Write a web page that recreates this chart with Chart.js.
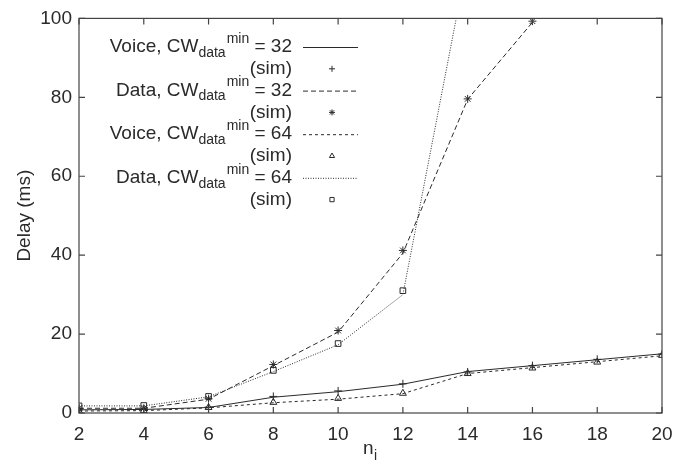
<!DOCTYPE html>
<html>
<head>
<meta charset="utf-8">
<script src="https://cdn.jsdelivr.net/npm/chart.js@4.4.1/dist/chart.umd.min.js"></script>
<style>
  html, body { margin: 0; padding: 0; background: #fff; }
  canvas { display: block; }
</style>
</head>
<body>
<canvas id="delayChart" width="684" height="463"></canvas>
<script>
// x values (number of voice stations n_i)
const nValues = [2, 4, 6, 8, 10, 12, 14, 16, 18, 20];

// Delay (ms)
const voice32 = [0.8, 0.9, 1.4, 4.0, 5.4, 7.3, 10.5, 12.0, 13.5, 15.0];
const voice32Sim = [0.8, 0.9, 1.5, 4.2, 5.6, 7.4, 10.4, 12.0, 13.6, 14.9];
const data32 = [1.2, 1.2, 3.5, 12.0, 20.5, 40.5, 79.5, 99.0];
const data32Sim = [1.2, 1.2, 3.6, 12.3, 20.9, 41.2, 79.6, 99.3];
const voice64 = [0.5, 0.6, 1.3, 2.6, 3.5, 4.9, 10.0, 11.5, 13.0, 14.5];
const voice64Sim = [0.5, 0.6, 1.4, 2.7, 3.7, 5.0, 10.0, 11.4, 12.9, 14.6];
const data64 = [1.8, 1.8, 4.1, 10.5, 17.3, 30.0, 115.0];
const data64Sim = [1.8, 1.9, 4.2, 10.8, 17.6, 31.0];

const yTicks = [0, 20, 40, 60, 80, 100];

const INK = '#2a2a2a';
const FONT = '"Liberation Sans", Arial, sans-serif';

function pts(values) {
    return values.map((v, i) => ({ x: nValues[i], y: v }));
}

function lineSet(label, values, dash) {
    return {
        label: label,
        data: pts(values),
        borderColor: INK,
        borderWidth: 1,
        borderDash: dash,
        pointRadius: 0,
        fill: false,
        tension: 0
    };
}

function simSet(label, values, style) {
    return {
        label: label,
        data: pts(values),
        showLine: false,
        pointStyle: style,
        pointRadius: 4,
        borderColor: INK,
        backgroundColor: 'rgba(0,0,0,0)',
        borderWidth: 1
    };
}

const dashes = {
    voice32: [],
    data32: [5, 3],
    voice64: [3, 3],
    data64: [1, 1.5]
};

// legend rows: [prefix, value, dash, pointStyle]
const legendRows = [
    ['Voice, CW', '32', dashes.voice32, 'cross'],
    ['Data, CW', '32', dashes.data32, 'star'],
    ['Voice, CW', '64', dashes.voice64, 'triangle'],
    ['Data, CW', '64', dashes.data64, 'rect']
];

const framePlugin = {
    id: 'frame',
    afterDraw(chart) {
        const ctx = chart.ctx;
        const a = chart.chartArea;
        const xs = chart.scales.x;
        const ys = chart.scales.y;
        ctx.save();
        ctx.strokeStyle = '#444';
        ctx.lineWidth = 1.2;
        ctx.strokeRect(a.left, a.top, a.right - a.left, a.bottom - a.top);
        ctx.beginPath();
        nValues.forEach(n => {
            const px = xs.getPixelForValue(n);
            ctx.moveTo(px, a.bottom); ctx.lineTo(px, a.bottom - 6);
            ctx.moveTo(px, a.top); ctx.lineTo(px, a.top + 6);
        });
        yTicks.forEach(t => {
            const py = ys.getPixelForValue(t);
            ctx.moveTo(a.left, py); ctx.lineTo(a.left + 6, py);
            ctx.moveTo(a.right, py); ctx.lineTo(a.right - 6, py);
        });
        ctx.stroke();

        // axis titles
        const big = '19px ' + FONT;
        const small = '14px ' + FONT;
        ctx.fillStyle = INK;
        ctx.font = big;
        ctx.textBaseline = 'middle';
        ctx.textAlign = 'center';
        ctx.save();
        ctx.translate(25, (a.top + a.bottom) / 2);
        ctx.rotate(-Math.PI / 2);
        ctx.fillText('Delay (ms)', 0, 0);
        ctx.restore();
        ctx.textAlign = 'left';
        ctx.fillText('n', 363, 449);
        ctx.font = small;
        ctx.fillText('i', 374, 456);

        // legend (gnuplot style, right aligned text)
        const textRight = 292;
        const rowH = 21.8;
        legendRows.forEach((row, i) => {
            const y = 47 + i * 2 * rowH;
            const ySim = y + rowH;
            ctx.textAlign = 'left';
            ctx.fillStyle = INK;
            ctx.font = big;
            const tail = ' = ' + row[1];
            const wTail = ctx.measureText(tail).width;
            const wPre = ctx.measureText(row[0]).width;
            ctx.font = small;
            const wSub = ctx.measureText('data').width;
            const wSup = ctx.measureText('min').width;
            let x = textRight - wTail - wSup - wSub - wPre - 1;
            ctx.font = big;
            ctx.fillText(row[0], x, y);
            x += wPre;
            ctx.font = small;
            ctx.fillText('data', x, y + 6);
            x += wSub;
            ctx.fillText('min', x + 1, y - 8);
            x += wSup + 1;
            ctx.font = big;
            ctx.fillText(tail, x, y);
            ctx.textAlign = 'right';
            ctx.fillText('(sim)', textRight, ySim);

            ctx.beginPath();
            ctx.setLineDash(row[2]);
            ctx.lineWidth = 1;
            ctx.strokeStyle = INK;
            ctx.moveTo(303, y + 0.5);
            ctx.lineTo(358, y + 0.5);
            ctx.stroke();
            ctx.setLineDash([]);
            ctx.fillStyle = 'rgba(0,0,0,0)';
            Chart.helpers.drawPoint(ctx, { pointStyle: row[3], radius: 3, borderWidth: 1 }, 332, ySim);
        });
        ctx.restore();
    }
};

new Chart(document.getElementById('delayChart').getContext('2d'), {
    type: 'line',
    data: {
        datasets: [
            lineSet('Voice, CWdata min = 32', voice32, dashes.voice32),
            simSet('Voice 32 (sim)', voice32Sim, 'cross'),
            lineSet('Data, CWdata min = 32', data32, dashes.data32),
            simSet('Data 32 (sim)', data32Sim, 'star'),
            lineSet('Voice, CWdata min = 64', voice64, dashes.voice64),
            simSet('Voice 64 (sim)', voice64Sim, 'triangle'),
            lineSet('Data, CWdata min = 64', data64, dashes.data64),
            simSet('Data 64 (sim)', data64Sim, 'rect')
        ]
    },
    options: {
        responsive: false,
        animation: false,
        layout: { padding: { left: 0, right: 22, top: 14, bottom: 0 } },
        plugins: {
            legend: { display: false },
            tooltip: { enabled: false }
        },
        scales: {
            x: {
                type: 'linear',
                min: 2,
                max: 20,
                afterFit: s => { s.height = 50; },
                afterBuildTicks: s => { s.ticks = nValues.map(v => ({ value: v })); },
                grid: { display: false, drawTicks: false },
                border: { display: false },
                ticks: { color: INK, padding: 10, font: { size: 19, family: FONT } }
            },
            y: {
                min: 0,
                max: 100,
                afterFit: s => { s.width = 79; },
                afterBuildTicks: s => { s.ticks = yTicks.map(v => ({ value: v })); },
                grid: { display: false, drawTicks: false },
                border: { display: false },
                ticks: { color: INK, padding: 7, font: { size: 19, family: FONT } }
            }
        }
    },
    plugins: [framePlugin]
});
</script>
</body>
</html>
